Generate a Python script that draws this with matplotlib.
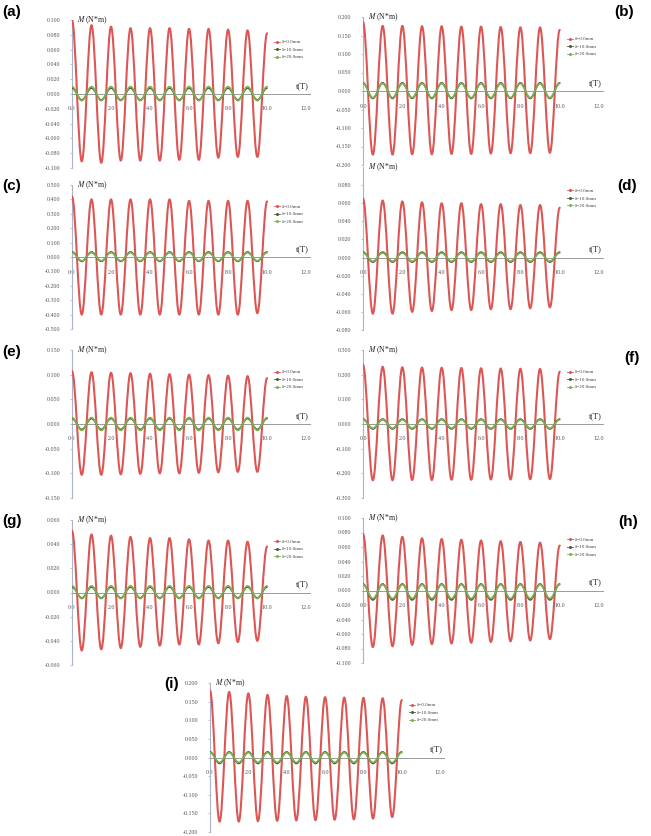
import matplotlib
matplotlib.use("Agg")
import matplotlib.pyplot as plt
from matplotlib.path import Path
from matplotlib.patches import PathPatch
from matplotlib.lines import Line2D

# ---------------- data (extrema at t = 0, 0.5, 1.0, ..., 10.0) ----------------
t_ext = [0.0, 0.5, 1.0, 1.5, 2.0, 2.5, 3.0, 3.5, 4.0, 4.5, 5.0,
         5.5, 6.0, 6.5, 7.0, 7.5, 8.0, 8.5, 9.0, 9.5, 10.0]

series_labels = ["δ=0.0mm", "δ=10.0mm", "δ=20.0mm"]
panel_letters = ["(a)", "(b)", "(c)", "(d)", "(e)", "(f)", "(g)", "(h)", "(i)"]

x_ticks = [0.0, 2.0, 4.0, 6.0, 8.0, 10.0, 12.0]
x_ticklabels = ["0.0", "2.0", "4.0", "6.0", "8.0", "10.0", "12.0"]

# panel (a)
a_d0 = [0.100, -0.091, 0.093, -0.093, 0.091, -0.090, 0.089, -0.090, 0.089, -0.090, 0.089,
        -0.089, 0.088, -0.089, 0.088, -0.086, 0.087, -0.085, 0.086, -0.085, 0.082]
a_d10 = [0.008, -0.008, 0.008, -0.008, 0.008, -0.008, 0.008, -0.008, 0.008, -0.008, 0.008,
         -0.008, 0.008, -0.008, 0.008, -0.008, 0.008, -0.008, 0.008, -0.008, 0.008]
a_d20 = [0.010, -0.009, 0.010, -0.009, 0.010, -0.009, 0.010, -0.009, 0.010, -0.009, 0.010,
         -0.009, 0.010, -0.009, 0.010, -0.009, 0.010, -0.009, 0.010, -0.009, 0.010]
a_yticks = [0.100, 0.080, 0.060, 0.040, 0.020, 0.000, -0.020, -0.040, -0.060, -0.080, -0.100]

# panel (b)
b_d0 = [0.186, -0.172, 0.176, -0.172, 0.176, -0.171, 0.175, -0.171, 0.175, -0.170, 0.174,
        -0.170, 0.174, -0.169, 0.173, -0.168, 0.172, -0.168, 0.172, -0.167, 0.165]
b_d10 = [0.022, -0.020, 0.022, -0.020, 0.022, -0.020, 0.022, -0.020, 0.022, -0.020, 0.022,
         -0.020, 0.022, -0.020, 0.022, -0.020, 0.022, -0.020, 0.022, -0.020, 0.022]
b_d20 = [0.020, -0.018, 0.020, -0.018, 0.020, -0.018, 0.020, -0.018, 0.020, -0.018, 0.020,
         -0.018, 0.020, -0.018, 0.020, -0.018, 0.020, -0.018, 0.020, -0.018, 0.020]
b_yticks = [0.200, 0.150, 0.100, 0.050, 0.000, -0.050, -0.100, -0.150, -0.200]

# panel (c)
c_d0 = [0.420, -0.400, 0.400, -0.400, 0.400, -0.400, 0.400, -0.400, 0.400, -0.400, 0.400,
        -0.400, 0.390, -0.400, 0.390, -0.400, 0.390, -0.400, 0.390, -0.390, 0.385]
c_d10 = [0.035, -0.030, 0.035, -0.030, 0.035, -0.030, 0.035, -0.030, 0.035, -0.030, 0.035,
         -0.030, 0.035, -0.030, 0.035, -0.030, 0.035, -0.030, 0.035, -0.030, 0.035]
c_d20 = [0.030, -0.026, 0.030, -0.026, 0.030, -0.026, 0.030, -0.026, 0.030, -0.026, 0.030,
         -0.026, 0.030, -0.026, 0.030, -0.026, 0.030, -0.026, 0.030, -0.026, 0.030]
c_yticks = [0.500, 0.400, 0.300, 0.200, 0.100, 0.000, -0.100, -0.200, -0.300, -0.400, -0.500]

# panel (d)
d_d0 = [0.065, -0.062, 0.063, -0.062, 0.062, -0.060, 0.061, -0.059, 0.060, -0.058, 0.060,
        -0.058, 0.059, -0.057, 0.059, -0.057, 0.058, -0.056, 0.058, -0.055, 0.055]
d_d10 = [0.006, -0.005, 0.006, -0.005, 0.006, -0.005, 0.006, -0.005, 0.006, -0.005, 0.006,
         -0.005, 0.006, -0.005, 0.006, -0.005, 0.006, -0.005, 0.006, -0.005, 0.006]
d_d20 = [0.005, -0.004, 0.005, -0.004, 0.005, -0.004, 0.005, -0.004, 0.005, -0.004, 0.005,
         -0.004, 0.005, -0.004, 0.005, -0.004, 0.005, -0.004, 0.005, -0.004, 0.005]
d_yticks = [0.080, 0.060, 0.040, 0.020, 0.000, -0.020, -0.040, -0.060, -0.080]

# panel (e)
e_d0 = [0.107, -0.103, 0.105, -0.103, 0.104, -0.102, 0.103, -0.101, 0.102, -0.100, 0.101,
        -0.100, 0.100, -0.099, 0.099, -0.098, 0.098, -0.097, 0.097, -0.097, 0.093]
e_d10 = [0.011, -0.011, 0.011, -0.011, 0.011, -0.011, 0.011, -0.011, 0.011, -0.011, 0.011,
         -0.011, 0.011, -0.011, 0.011, -0.011, 0.011, -0.011, 0.011, -0.011, 0.011]
e_d20 = [0.013, -0.013, 0.013, -0.013, 0.013, -0.013, 0.013, -0.013, 0.013, -0.013, 0.013,
         -0.013, 0.013, -0.013, 0.013, -0.013, 0.013, -0.013, 0.013, -0.013, 0.013]
e_yticks = [0.150, 0.100, 0.050, 0.000, -0.050, -0.100, -0.150]

# panel (f)
f_d0 = [0.240, -0.228, 0.232, -0.228, 0.230, -0.227, 0.229, -0.227, 0.228, -0.226, 0.227,
        -0.226, 0.226, -0.225, 0.225, -0.225, 0.224, -0.224, 0.223, -0.223, 0.212]
f_d10 = [0.020, -0.020, 0.020, -0.020, 0.020, -0.020, 0.020, -0.020, 0.020, -0.020, 0.020,
         -0.020, 0.020, -0.020, 0.020, -0.020, 0.020, -0.020, 0.020, -0.020, 0.020]
f_d20 = [0.017, -0.017, 0.017, -0.017, 0.017, -0.017, 0.017, -0.017, 0.017, -0.017, 0.017,
         -0.017, 0.017, -0.017, 0.017, -0.017, 0.017, -0.017, 0.017, -0.017, 0.017]
f_yticks = [0.300, 0.200, 0.100, 0.000, -0.100, -0.200, -0.300]

# panel (g)
g_d0 = [0.051, -0.048, 0.048, -0.047, 0.047, -0.046, 0.046, -0.045, 0.045, -0.044, 0.045,
        -0.043, 0.044, -0.043, 0.043, -0.042, 0.043, -0.041, 0.042, -0.040, 0.038]
g_d10 = [0.0045, -0.0045, 0.0045, -0.0045, 0.0045, -0.0045, 0.0045, -0.0045, 0.0045, -0.0045, 0.0045,
         -0.0045, 0.0045, -0.0045, 0.0045, -0.0045, 0.0045, -0.0045, 0.0045, -0.0045, 0.0045]
g_d20 = [0.0055, -0.005, 0.0055, -0.005, 0.0055, -0.005, 0.0055, -0.005, 0.0055, -0.005, 0.0055,
         -0.005, 0.0055, -0.005, 0.0055, -0.005, 0.0055, -0.005, 0.0055, -0.005, 0.0055]
g_yticks = [0.060, 0.040, 0.020, 0.000, -0.020, -0.040, -0.060]

# panel (h)
h_d0 = [0.078, -0.078, 0.076, -0.077, 0.074, -0.075, 0.072, -0.074, 0.071, -0.073, 0.070,
        -0.072, 0.069, -0.071, 0.068, -0.070, 0.067, -0.069, 0.066, -0.067, 0.062]
h_d10 = [0.009, -0.013, 0.009, -0.013, 0.009, -0.013, 0.009, -0.013, 0.009, -0.013, 0.009,
         -0.013, 0.009, -0.013, 0.009, -0.013, 0.009, -0.013, 0.009, -0.013, 0.009]
h_d20 = [0.008, -0.011, 0.008, -0.011, 0.008, -0.011, 0.008, -0.011, 0.008, -0.011, 0.008,
         -0.011, 0.008, -0.011, 0.008, -0.011, 0.008, -0.011, 0.008, -0.011, 0.008]
h_yticks = [0.100, 0.080, 0.060, 0.040, 0.020, 0.000, -0.020, -0.040, -0.060, -0.080, -0.100]

# panel (i)
i_d0 = [0.180, -0.172, 0.176, -0.172, 0.172, -0.171, 0.168, -0.170, 0.165, -0.169, 0.163,
        -0.168, 0.162, -0.167, 0.161, -0.166, 0.160, -0.164, 0.159, -0.160, 0.154]
i_d10 = [0.015, -0.016, 0.015, -0.016, 0.015, -0.016, 0.015, -0.016, 0.015, -0.016, 0.015,
         -0.016, 0.015, -0.016, 0.015, -0.016, 0.015, -0.016, 0.015, -0.016, 0.015]
i_d20 = [0.013, -0.013, 0.013, -0.013, 0.013, -0.013, 0.013, -0.013, 0.013, -0.013, 0.013,
         -0.013, 0.013, -0.013, 0.013, -0.013, 0.013, -0.013, 0.013, -0.013, 0.013]
i_yticks = [0.200, 0.150, 0.100, 0.050, 0.000, -0.050, -0.100, -0.150, -0.200]

panel_series = [
    (a_d0, a_d10, a_d20), (b_d0, b_d10, b_d20), (c_d0, c_d10, c_d20),
    (d_d0, d_d10, d_d20), (e_d0, e_d10, e_d20), (f_d0, f_d10, f_d20),
    (g_d0, g_d10, g_d20), (h_d0, h_d10, h_d20), (i_d0, i_d10, i_d20),
]
panel_yticks = [a_yticks, b_yticks, c_yticks, d_yticks, e_yticks,
                f_yticks, g_yticks, h_yticks, i_yticks]
panel_ylims = [(-0.1, 0.1), (-0.2, 0.2), (-0.5, 0.5), (-0.08, 0.1), (-0.15, 0.15),
               (-0.3, 0.3), (-0.06, 0.06), (-0.1, 0.1), (-0.2, 0.2)]

# ---------------- layout (pixel boxes: left, top, right, bottom) ----------------
W, H = 651, 836
boxes = [
    (72, 20, 310, 168), (363, 17, 603, 165),
    (72, 185, 310, 329), (363, 167, 603, 330),
    (72, 350, 310, 498), (363, 350, 603, 498),
    (72, 520, 310, 665), (363, 518, 603, 663),
    (210, 683, 444, 832),
]
letter_pos = [(2, 12), (614, 12), (2, 186), (617, 186), (2, 352), (624, 358),
              (2, 521), (618, 522), (164, 684)]

colors = ["#dc5656", "#4f5d3c", "#79b451"]
widths = [1.5, 1.2, 1.2]

SERIF = ["Liberation Serif", "DejaVu Serif"]
plt.rcParams["font.family"] = SERIF
plt.rcParams["mathtext.fontset"] = "stix"

fig = plt.figure(figsize=(W / 100, H / 100), dpi=100)
fig.patch.set_facecolor("white")


def smooth_path(tv, vv, k=0.364):
    verts = [(tv[0], vv[0])]
    codes = [Path.MOVETO]
    for j in range(len(tv) - 1):
        h = tv[j + 1] - tv[j]
        verts += [(tv[j] + k * h, vv[j]), (tv[j + 1] - k * h, vv[j + 1]), (tv[j + 1], vv[j + 1])]
        codes += [Path.CURVE4, Path.CURVE4, Path.CURVE4]
    return Path(verts, codes)


for p in range(9):
    l, t, r, b = boxes[p]
    ax = fig.add_axes([l / W, 1 - b / H, (r - l) / W, (b - t) / H])
    ax.set_facecolor("none")
    ax.set_xlim(0, 12.2)
    ax.set_ylim(*panel_ylims[p])

    for s in range(3):
        patch = PathPatch(smooth_path(t_ext, panel_series[p][s]), fill=False,
                          edgecolor=colors[s], lw=widths[s], transform=ax.transData,
                          capstyle="round", joinstyle="round", zorder=3 + s)
        ax.add_patch(patch)

    for side in ["top", "right"]:
        ax.spines[side].set_visible(False)
    ax.spines["bottom"].set_position(("data", 0))
    ax.spines["bottom"].set_color("#9a9a9a")
    ax.spines["bottom"].set_linewidth(0.7)
    ax.spines["left"].set_color("#a9b4c8")
    ax.spines["left"].set_linewidth(0.8)

    ax.set_yticks(panel_yticks[p])
    ax.set_yticklabels([f"{v:.3f}" for v in panel_yticks[p]])
    ax.set_xticks(x_ticks)
    ax.set_xticklabels(x_ticklabels)
    ax.tick_params(axis="y", length=1.5, width=0.5, color="#aaaaaa", labelsize=4.3,
                   labelcolor="#555555", pad=7)
    ax.tick_params(axis="x", length=0, labelsize=4.3, labelcolor="#555555", pad=9)

    ax.text(0.02, 1.0, "$M$ (N*m)", transform=ax.transAxes, fontsize=5.5,
            ha="left", va="center", color="#222222")
    ax.annotate("t(T)", xy=(11.8, 0), xycoords="data", xytext=(0, 3),
                textcoords="offset points", fontsize=6, ha="center", va="bottom",
                color="#222222")

    handles = [Line2D([], [], color=colors[s], lw=0.6, marker="o", ms=1.2)
               for s in range(3)]
    leg = ax.legend(handles, series_labels, loc="upper left", bbox_to_anchor=(0.84, 0.88),
                    fontsize=3.6, frameon=False, handlelength=1.2, handletextpad=0.4,
                    labelspacing=0.6, borderaxespad=0)
    for txt in leg.get_texts():
        txt.set_color("#444444")

    lx, ly = letter_pos[p]
    fig.text(lx / W, 1 - ly / H, panel_letters[p], fontsize=11, fontweight="bold",
             family=["Liberation Sans", "DejaVu Sans"], ha="left", va="center")

fig.savefig("out.png", dpi=100, facecolor="white")
